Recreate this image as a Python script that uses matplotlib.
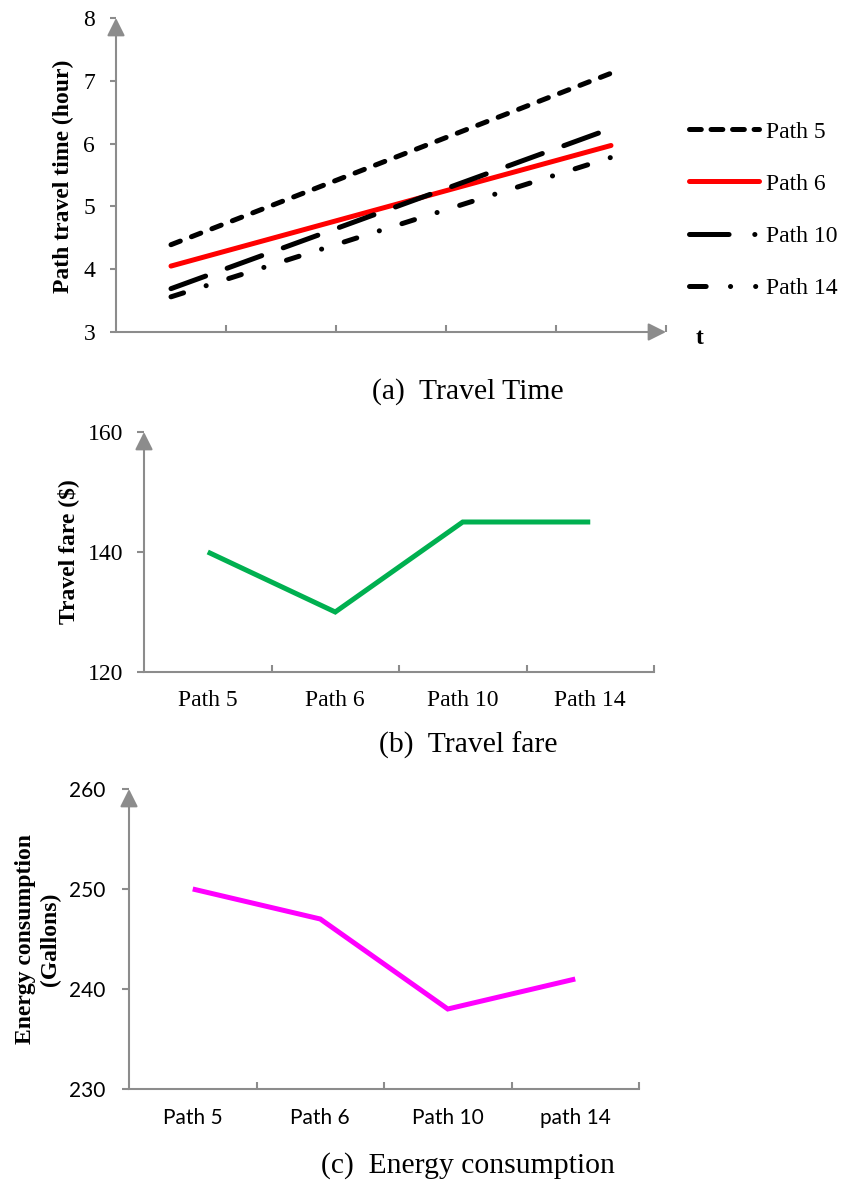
import matplotlib
matplotlib.use('Agg')
import matplotlib.pyplot as plt
from matplotlib.lines import Line2D

W, H, DPI = 841, 1186, 100
GRAY = '#8c8c8c'
SERIF = 'Liberation Serif'
SANS = 'Lato'

# ---------------- data ----------------
t_slots = ['', '', '', '', '']          # five time slots on the t axis (unlabelled)
t_index = [1, 5]                        # first and last slot where lines are drawn
path5_time = [4.39, 7.12]
path6_time = [4.05, 5.97]
path10_time = [3.69, 6.24]
path14_time = [3.56, 5.78]
time_labels = ['Path 5', 'Path 6', 'Path 10', 'Path 14']
time_yticks = [3, 4, 5, 6, 7, 8]

fare_paths = ['Path 5', 'Path 6', 'Path 10', 'Path 14']
fare_values = [140, 130, 145, 145]
fare_yticks = [120, 140, 160]

energy_paths = ['Path 5', 'Path 6', 'Path 10', 'path 14']
energy_values = [250, 247, 238, 241]
energy_yticks = [230, 240, 250, 260]

plt.rcParams['lines.scale_dashes'] = False
fig = plt.figure(figsize=(W / DPI, H / DPI), dpi=DPI)


def px_axes(left, top, right, bottom):
    return fig.add_axes([left / W, 1 - bottom / H, (right - left) / W, (bottom - top) / H])


def arrow_axis(ax, start, end):
    ax.annotate('', xy=end, xytext=start, xycoords='axes fraction',
                textcoords='axes fraction', annotation_clip=False,
                arrowprops=dict(arrowstyle='-|>,head_length=0.4,head_width=0.2',
                                color=GRAY, lw=1.5, mutation_scale=27,
                                shrinkA=0, shrinkB=0))


def style_axes(ax, x_arrow=False):
    for s in ax.spines.values():
        s.set_visible(False)
    arrow_axis(ax, (0, 0), (0, 1))
    if x_arrow:
        arrow_axis(ax, (0, 0), (1, 0))
    else:
        ax.spines['bottom'].set_visible(True)
        ax.spines['bottom'].set_color(GRAY)
        ax.spines['bottom'].set_linewidth(1.5)
    ax.set_facecolor('none')


LW = 3.6
DASH5 = (7.2, 8.6)
DASH10 = (26.5, 16.5)
DASH14 = (9.5, 17.0, 0.1, 17.0)

# ---------------- (a) travel time ----------------
axa = px_axes(116, 18, 666, 332)
style_axes(axa, x_arrow=True)
axa.plot(t_index, path5_time, color='black', lw=LW, dash_capstyle='round', dashes=DASH5)
axa.plot(t_index, path6_time, color='#ff0000', lw=LW, solid_capstyle='round')
axa.plot(t_index, path10_time, color='black', lw=LW, dash_capstyle='round', dashes=DASH10)
axa.plot(t_index, path14_time, color='black', lw=LW, dash_capstyle='round', dashes=DASH14)
axa.set_xlim(0.5, 0.5 + len(t_slots))
axa.set_ylim(time_yticks[0], time_yticks[-1])
axa.set_xticks([i + 1.5 for i in range(len(t_slots))])
axa.set_xticklabels([])
axa.set_yticks(time_yticks)
axa.set_yticklabels([str(v) for v in time_yticks], family=SERIF, fontsize=17)
axa.tick_params(axis='x', direction='in', length=5, width=1.5, color=GRAY)
axa.tick_params(axis='y', direction='out', length=4.5, width=1.5, color=GRAY, pad=10.5)

# legend proxies mimicking the original legend swatches
h5 = Line2D([], [], color='black', lw=LW, dash_capstyle='round', dashes=(8.5, 7.0))
h6 = Line2D([], [], color='#ff0000', lw=LW, solid_capstyle='round')
h10 = Line2D([], [], color='black', lw=LW, dash_capstyle='round', dashes=(28.5, 18.5, 0.1, 30))
h14 = Line2D([], [], color='black', lw=LW, dash_capstyle='round',
             dashes=(12.0, 17.5, 0.1, 18.0, 0.1, 30))
axa.legend(handles=[h5, h6, h10, h14], labels=time_labels, loc='upper left',
           bbox_to_anchor=(689 / W, 1 - 121 / H), bbox_transform=fig.transFigure,
           frameon=False, prop={'family': SERIF, 'size': 17},
           handlelength=2.95, handletextpad=0.3, labelspacing=1.3,
           borderpad=0, borderaxespad=0)
fig.text(700 / W, 1 - 338 / H, 't', family=SERIF, fontsize=17, fontweight='bold',
         ha='center', va='center')
fig.text(63 / W, 1 - 176 / H, 'Path travel time (hour)', family=SERIF, fontsize=17,
         fontweight='bold', rotation=90, ha='center', va='center')
fig.text(468 / W, 1 - 392 / H, '(a)  Travel Time', family=SERIF, fontsize=21.3,
         ha='center', va='center')

# ---------------- (b) travel fare ----------------
axb = px_axes(144, 432, 654, 672)
style_axes(axb)
xb = list(range(1, len(fare_paths) + 1))
axb.plot(xb, fare_values, color='#00b050', lw=LW, solid_capstyle='butt',
         solid_joinstyle='miter')
axb.set_xlim(0.5, len(fare_paths) + 0.5)
axb.set_ylim(fare_yticks[0], fare_yticks[-1])
axb.set_xticks(xb)
axb.set_xticklabels(fare_paths, family=SERIF, fontsize=17)
axb.set_xticks([i + 0.5 for i in xb], minor=True)
axb.tick_params(axis='x', which='major', length=0, pad=13)
axb.tick_params(axis='x', which='minor', direction='in', length=5, width=1.5, color=GRAY)
axb.set_yticks(fare_yticks)
axb.set_yticklabels([str(v) for v in fare_yticks], family=SERIF, fontsize=17)
axb.tick_params(axis='y', direction='out', length=5, width=1.5, color=GRAY, pad=10)
fig.text(68 / W, 1 - 552 / H, 'Travel fare ($)', family=SERIF, fontsize=17,
         fontweight='bold', rotation=90, ha='center', va='center')
fig.text(468 / W, 1 - 745 / H, '(b)  Travel fare', family=SERIF, fontsize=21.3,
         ha='center', va='center')

# ---------------- (c) energy consumption ----------------
axc = px_axes(129, 789, 639, 1089)
style_axes(axc)
xc = list(range(1, len(energy_paths) + 1))
axc.plot(xc, energy_values, color='#ff00ff', lw=LW, solid_capstyle='butt',
         solid_joinstyle='miter')
axc.set_xlim(0.5, len(energy_paths) + 0.5)
axc.set_ylim(energy_yticks[0], energy_yticks[-1])
axc.set_xticks(xc)
axc.set_xticklabels(energy_paths, family=SANS, fontsize=15)
axc.set_xticks([i + 0.5 for i in xc], minor=True)
axc.tick_params(axis='x', which='major', length=0, pad=14)
axc.tick_params(axis='x', which='minor', direction='in', length=5, width=1.5, color=GRAY)
axc.set_yticks(energy_yticks)
axc.set_yticklabels([str(v) for v in energy_yticks], family=SANS, fontsize=15)
axc.tick_params(axis='y', direction='out', length=5, width=1.5, color=GRAY, pad=12)
fig.text(38 / W, 1 - 939 / H, 'Energy consumption\n(Gallons)', family=SERIF,
         fontsize=17, fontweight='bold', rotation=90, ha='center', va='center',
         multialignment='center', linespacing=1.25)
fig.text(468 / W, 1 - 1166 / H, '(c)  Energy consumption', family=SERIF, fontsize=21.3,
         ha='center', va='center')

fig.savefig('out.png', dpi=DPI)
